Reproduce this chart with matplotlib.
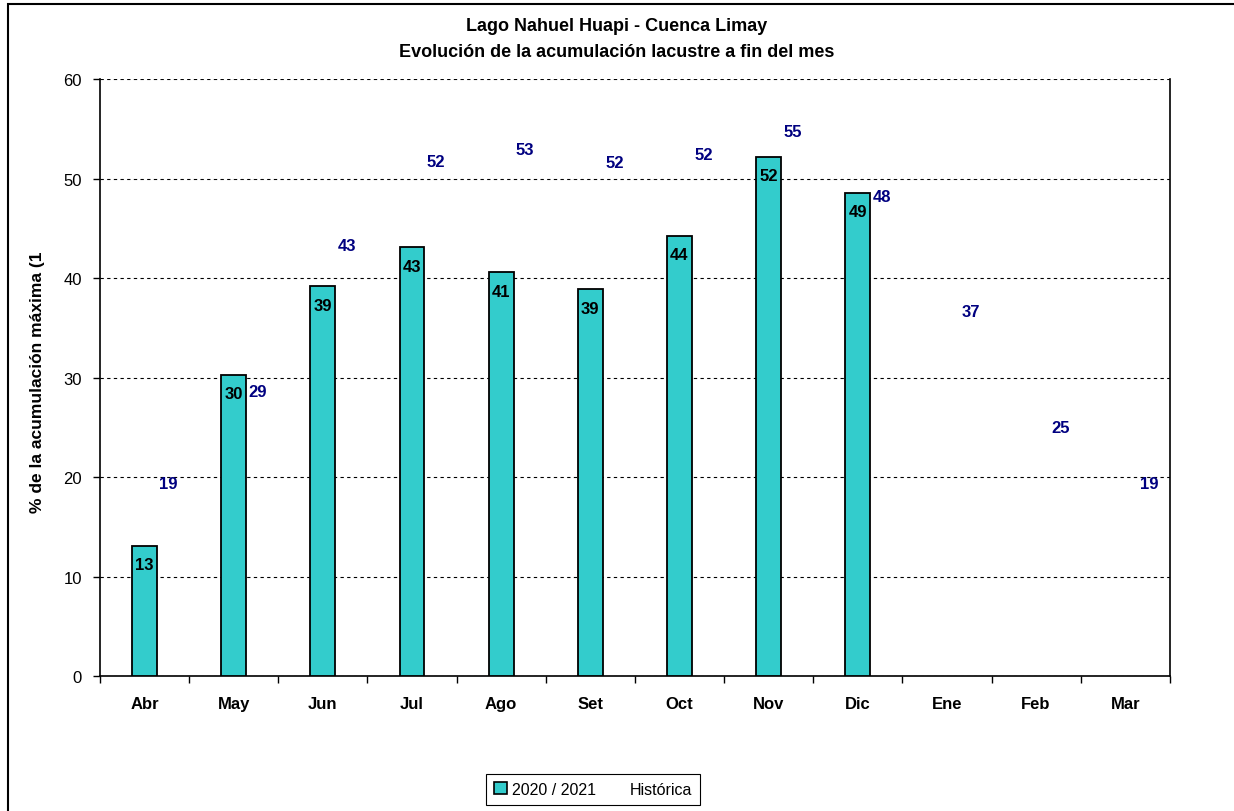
import matplotlib
matplotlib.use("Agg")
import matplotlib.pyplot as plt
from matplotlib.patches import Patch, Rectangle
from matplotlib.lines import Line2D

plt.rcParams['font.family'] = ['Liberation Sans', 'DejaVu Sans']

# --- data: % de la acumulación máxima, fin de cada mes ---
meses = ['Abr', 'May', 'Jun', 'Jul', 'Ago', 'Set', 'Oct', 'Nov', 'Dic', 'Ene', 'Feb', 'Mar']
actual_2020_21 = [13.1, 30.3, 39.2, 43.1, 40.6, 38.9, 44.3, 52.2, 48.6]
historica = [19.4, 28.6, 43.3, 51.7, 53.0, 51.6, 52.4, 54.8, 48.2, 36.7, 25.0, 19.4]

BAR_COLOR = '#33CCCC'
HIST_COLOR = '#000080'

fig = plt.figure(figsize=(12.34, 8.12), dpi=100)
ax = fig.add_axes([0.081, 0.166, 0.867, 0.735])

# outer chart frame
fig.patches.append(Rectangle((8 / 1234, -0.1), 1.2, (812 - 5) / 812 + 0.1,
                             transform=fig.transFigure, fill=False,
                             edgecolor='black', linewidth=1.5))

x_act = list(range(len(actual_2020_21)))
bars = ax.bar(x_act, actual_2020_21, width=0.28, color=BAR_COLOR,
              edgecolor='black', linewidth=1.3, zorder=3)

# values inside the top of each bar
for xi, v in zip(x_act, actual_2020_21):
    ax.annotate(f"{v:.0f}", (xi, v), xytext=(0, -13.5), textcoords='offset points',
                ha='center', va='center', fontsize=12, fontweight='bold',
                color='black', zorder=4)

# historical series: labels only
for xi, v in enumerate(historica):
    ax.text(xi + 0.27, v, f"{v:.0f}", ha='center', va='center',
            fontsize=12, fontweight='bold', color=HIST_COLOR, zorder=4)

ax.set_xlim(-0.5, len(meses) - 0.5)
ax.set_ylim(0, 60)
ax.set_yticks(range(0, 61, 10))
ax.set_xticks(range(len(meses)))
ax.set_xticklabels(meses, fontweight='bold', fontsize=12)
ax.set_xticks([i - 0.5 for i in range(len(meses) + 1)], minor=True)
ax.tick_params(axis='x', which='major', length=0, pad=14)
ax.tick_params(axis='x', which='minor', length=5, width=1, direction='out')
ax.tick_params(axis='y', length=5, width=1, direction='out', labelsize=12, pad=8)

ax.grid(axis='y', color='black', linestyle=(0, (3, 3)), linewidth=0.8, zorder=0)
ax.spines['top'].set_visible(False)
for s in ('left', 'bottom', 'right'):
    ax.spines[s].set_linewidth(1.2)

fig.text(0.5, 0.967, 'Lago Nahuel Huapi - Cuenca Limay', ha='center', va='center',
         fontsize=13, fontweight='bold')
fig.text(0.5, 0.935, 'Evolución de la acumulación lacustre a fin del mes', ha='center',
         va='center', fontsize=13, fontweight='bold')
fig.text(0.030, 0.5296, '% de la acumulación máxima (1', rotation=90, ha='center',
         va='center', fontsize=12.5, fontweight='bold')

handles = [Patch(facecolor=BAR_COLOR, edgecolor='black', linewidth=1.2),
           Line2D([], [], linestyle='none')]
leg = fig.legend(handles, ['2020 / 2021', 'Histórica'], loc='center',
                 bbox_to_anchor=(0.4806, 0.027), ncol=2, fontsize=11.5,
                 fancybox=False, framealpha=1, edgecolor='black',
                 handlelength=0.8, handleheight=0.8, handletextpad=0.3,
                 columnspacing=1.0, borderpad=0.5)
leg.get_frame().set_linewidth(0.8)

fig.savefig('out.png', dpi=100)
